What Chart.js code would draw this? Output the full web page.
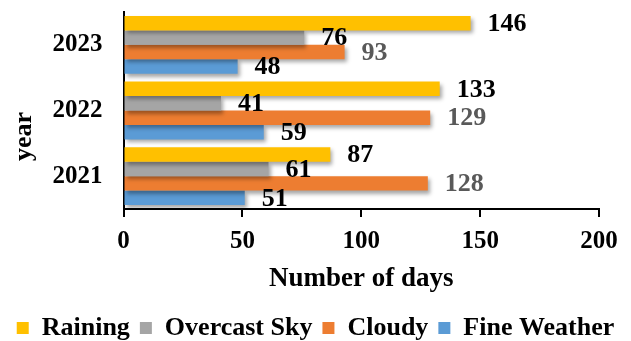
<!DOCTYPE html>
<html>
<head>
<meta charset="utf-8">
<script src="https://cdn.jsdelivr.net/npm/chart.js@4"></script>
<style>
  html, body { margin: 0; padding: 0; background: #fff; }
  #wrap { width: 631px; height: 341px; }
</style>
</head>
<body>
<div id="wrap"><canvas id="weatherChart" width="631" height="341"></canvas></div>
<script>
const years = ['2023', '2022', '2021'];
const raining = [146, 133, 87];
const overcast = [76, 41, 61];
const cloudy = [93, 129, 128];
const fine = [48, 59, 51];
const xTicks = [0, 50, 100, 150, 200];

const serif = "'Times New Roman', 'Liberation Serif', serif";

const colors = {
    yellow: '#FFC000',
    gray: '#A5A5A5',
    orange: '#ED7D31',
    blue: '#5B9BD5',
};

// soft drop shadow under the bars
const barShadow = {
    id: 'barShadow',
    beforeDatasetsDraw(chart) {
        const ctx = chart.ctx;
        ctx.save();
        ctx.shadowColor = 'rgba(0,0,0,0.35)';
        ctx.shadowBlur = 4;
        ctx.shadowOffsetX = 2;
        ctx.shadowOffsetY = 3;
    },
    afterDatasetsDraw(chart) {
        chart.ctx.restore();
    },
};

// value labels right of each bar
const valueLabels = {
    id: 'valueLabels',
    afterDatasetsDraw(chart) {
        const ctx = chart.ctx;
        ctx.save();
        ctx.font = 'bold 26px ' + serif;
        ctx.textAlign = 'left';
        ctx.textBaseline = 'middle';
        chart.data.datasets.forEach((ds, i) => {
            const meta = chart.getDatasetMeta(i);
            ctx.fillStyle = ds.labelColor;
            meta.data.forEach((bar, j) => {
                ctx.fillText(String(ds.data[j]), bar.x + 17, bar.y + 1);
            });
        });
        ctx.restore();
    },
};

new Chart(document.getElementById('weatherChart').getContext('2d'), {
    type: 'bar',
    data: {
        labels: years,
        datasets: [
            { label: 'Raining', data: raining, backgroundColor: colors.yellow, labelColor: '#000' },
            { label: 'Overcast Sky', data: overcast, backgroundColor: colors.gray, labelColor: '#000' },
            { label: 'Cloudy', data: cloudy, backgroundColor: colors.orange, labelColor: '#595959' },
            { label: 'Fine Weather', data: fine, backgroundColor: colors.blue, labelColor: '#000' },
        ],
    },
    options: {
        indexAxis: 'y',
        responsive: false,
        animation: false,
        categoryPercentage: 0.88,
        barPercentage: 1,
        layout: { padding: { top: 0, right: 0, bottom: -10, left: 0 } },
        plugins: {
            legend: {
                position: 'bottom',
                labels: {
                    boxWidth: 12,
                    boxHeight: 12,
                    padding: 10,
                    color: '#000',
                    font: { family: serif, size: 26, weight: 'bold' },
                },
            },
            tooltip: { enabled: false },
        },
        scales: {
            x: {
                min: 0,
                max: 200,
                afterBuildTicks: s => { s.ticks = xTicks.map(v => ({ value: v })); },
                afterFit: s => { s.height = 96; s.paddingRight = 32; },
                grid: {
                    drawOnChartArea: false,
                    drawTicks: true,
                    tickLength: 8,
                    color: '#000',
                    lineWidth: 2,
                },
                border: { display: true, color: '#000', width: 2 },
                ticks: {
                    color: '#000',
                    padding: 10,
                    font: { family: serif, size: 25, weight: 'bold' },
                },
                title: {
                    display: true,
                    text: 'Number of days',
                    color: '#000',
                    padding: { top: 0, bottom: 10 },
                    font: { family: serif, size: 27, weight: 'bold' },
                },
            },
            y: {
                afterFit: s => { s.width = 123.5; },
                grid: { display: false, drawTicks: true, tickLength: 21 },
                border: { display: true, color: '#000', width: 2 },
                ticks: {
                    color: '#000',
                    padding: 0,
                    font: { family: serif, size: 25, weight: 'bold', lineHeight: 0.96 },
                },
                title: {
                    display: true,
                    // trailing spaces push the word down the axis, as in the original
                    text: 'year\u00A0\u00A0\u00A0\u00A0\u00A0\u00A0\u00A0\u00A0',
                    color: '#000',
                    padding: { top: 9, bottom: 0 },
                    font: { family: serif, size: 26, weight: 'bold' },
                },
            },
        },
    },
    plugins: [barShadow, valueLabels],
});
</script>
</body>
</html>
